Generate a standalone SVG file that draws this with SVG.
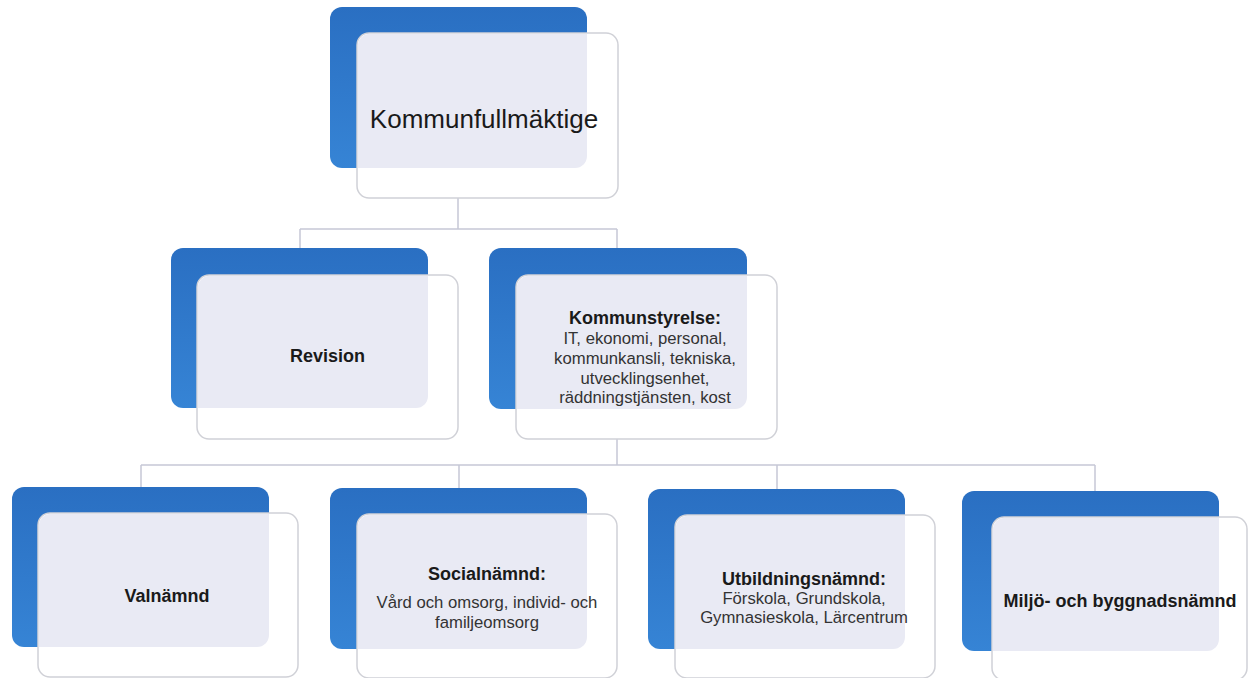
<svg xmlns="http://www.w3.org/2000/svg" width="1248" height="678" viewBox="0 0 1248 678">
<defs>
<linearGradient id="blueGrad" x1="0" y1="0" x2="0" y2="1">
<stop offset="0" stop-color="#2a6fc2"/>
<stop offset="1" stop-color="#3684d5"/>
</linearGradient>
<style>
.back{fill:url(#blueGrad);}
.front{fill:#ffffff;stroke:#d0d1d7;stroke-width:1.5;}
.ov{fill:#e9eaf4;}
.conn{fill:none;stroke:#c6c8d6;stroke-width:1.5;}
text{font-family:"Liberation Sans",Arial,sans-serif;fill:#1a1a1a;text-anchor:middle;}
.t{font-size:26px;}
.b{font-size:18px;font-weight:bold;}
.r{font-size:16.7px;fill:#333;}
</style>
</defs>
<rect width="1248" height="678" fill="#ffffff"/>
<g id="connectors" class="conn">
<path d="M458,197 V229 M300,229 H617 M300,229 V248 M617,229 V248"/>
<path d="M617,439 V465 M141,465 H1095 M141,465 V487 M459,465 V488 M777,465 V489 M1095,465 V491"/>
</g>
<g id="n-kommunfullmaktige">
<rect class="back" x="330" y="7" width="257" height="161" rx="12"/>
<rect class="front" x="357" y="33" width="261" height="165" rx="12"/>
<path class="ov" d="M369,33.8 H587 V156 A12,12 0 0 1 575,168 H357.8 V45 A12,12 0 0 1 369,33.8 Z"/>
<text class="t" x="484" y="128">Kommunfullmäktige</text>
</g>
<g id="n-revision">
<rect class="back" x="171" y="248" width="257" height="160" rx="12"/>
<rect class="front" x="197" y="275" width="261" height="164" rx="12"/>
<path class="ov" d="M209,275.8 H428 V396 A12,12 0 0 1 416,408 H197.8 V287 A12,12 0 0 1 209,275.8 Z"/>
<text class="b" x="327.5" y="362">Revision</text>
</g>
<g id="n-kommunstyrelse">
<rect class="back" x="489" y="248" width="258" height="161" rx="12"/>
<rect class="front" x="516" y="275" width="261" height="164" rx="12"/>
<path class="ov" d="M528,275.8 H747 V397 A12,12 0 0 1 735,409 H516.8 V287 A12,12 0 0 1 528,275.8 Z"/>
<text class="b" x="645" y="324">Kommunstyrelse:</text>
<text class="r" x="645" y="344">IT, ekonomi, personal,</text>
<text class="r" x="645" y="364">kommunkansli, tekniska,</text>
<text class="r" x="645" y="384">utvecklingsenhet,</text>
<text class="r" x="645" y="403">räddningstjänsten, kost</text>
</g>
<g id="n-valnamnd">
<rect class="back" x="12" y="487" width="257" height="160" rx="12"/>
<rect class="front" x="38" y="513" width="260" height="164" rx="12"/>
<path class="ov" d="M50,513.8 H269 V635 A12,12 0 0 1 257,647 H38.8 V525 A12,12 0 0 1 50,513.8 Z"/>
<text class="b" x="167" y="602">Valnämnd</text>
</g>
<g id="n-socialnamnd">
<rect class="back" x="330" y="488" width="257" height="161" rx="12"/>
<rect class="front" x="357" y="514" width="260" height="164" rx="12"/>
<path class="ov" d="M369,514.8 H587 V637 A12,12 0 0 1 575,649 H357.8 V526 A12,12 0 0 1 369,514.8 Z"/>
<text class="b" x="487" y="580">Socialnämnd:</text>
<text class="r" x="487" y="608">Vård och omsorg, individ- och</text>
<text class="r" x="487" y="628">familjeomsorg</text>
</g>
<g id="n-utbildningsnamnd">
<rect class="back" x="648" y="489" width="257" height="160" rx="12"/>
<rect class="front" x="675" y="515" width="260" height="163" rx="12"/>
<path class="ov" d="M687,515.8 H905 V637 A12,12 0 0 1 893,649 H675.8 V527 A12,12 0 0 1 687,515.8 Z"/>
<text class="b" x="804" y="585">Utbildningsnämnd:</text>
<text class="r" x="804" y="604">Förskola, Grundskola,</text>
<text class="r" x="804" y="623">Gymnasieskola, Lärcentrum</text>
</g>
<g id="n-miljo">
<rect class="back" x="962" y="491" width="257" height="160" rx="12"/>
<rect class="front" x="992" y="517" width="255" height="163" rx="12"/>
<path class="ov" d="M1004,517.8 H1219 V639 A12,12 0 0 1 1207,651 H992.8 V529 A12,12 0 0 1 1004,517.8 Z"/>
<text class="b" x="1120" y="607">Miljö- och byggnadsnämnd</text>
</g>
</svg>
